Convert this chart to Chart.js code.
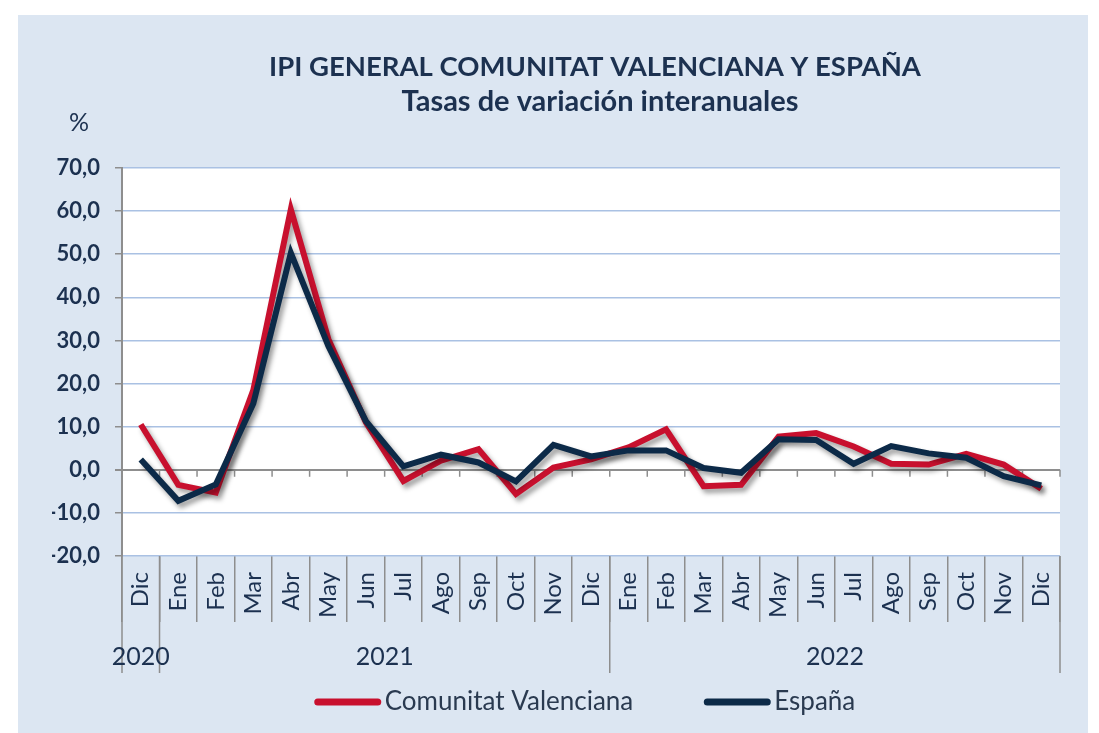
<!DOCTYPE html>
<html lang="es">
<head>
<meta charset="utf-8">
<title>IPI General Comunitat Valenciana y España</title>
<script src="https://cdn.jsdelivr.net/npm/chart.js@4.4.1/dist/chart.umd.min.js"></script>
<style>
    html, body { margin: 0; padding: 0; background: #ffffff; }
    canvas { display: block; }
</style>
</head>
<body>
<canvas id="graficoIPI" width="1099" height="733"></canvas>
<script>
// Datos (tasas de variación interanual, %)
const meses = ['Dic', 'Ene', 'Feb', 'Mar', 'Abr', 'May', 'Jun', 'Jul', 'Ago', 'Sep', 'Oct', 'Nov', 'Dic',
    'Ene', 'Feb', 'Mar', 'Abr', 'May', 'Jun', 'Jul', 'Ago', 'Sep', 'Oct', 'Nov', 'Dic'];
const anios = ['2020', '2021', '2022'];
const inicioAnio = [0, 1, 13];   // índice del primer mes de cada año
const finAnio = [0, 12, 24];     // índice del último mes de cada año

const valoresCV = [10.5, -3.5, -5.3, 18.5, 60.4, 30.3, 11.0, -2.6, 2.1, 4.8, -5.6, 0.5, 2.4,
    5.2, 9.4, -3.8, -3.5, 7.7, 8.5, 5.4, 1.4, 1.2, 3.7, 1.2, -4.4];
const valoresEspana = [2.4, -7.2, -3.4, 15.4, 50.3, 28.7, 11.3, 0.8, 3.5, 1.7, -2.7, 5.8, 3.1,
    4.5, 4.5, 0.4, -0.7, 7.1, 6.9, 1.4, 5.5, 3.8, 2.8, -1.5, -3.6];

const ejeYMin = -20;
const ejeYMax = 70;
const ejeYPaso = 10;

const titulo = 'IPI GENERAL COMUNITAT VALENCIANA Y ESPAÑA';
const subtitulo = 'Tasas de variación interanuales';

const colorRojo = '#c8102e';
const colorAzul = '#0c2a48';
const colorTexto = '#1c3150';
const colorGris = '#8e8e8e';
const colorRejilla = '#aac1e3';
const colorFondo = '#dce6f2';
const fuente = 'Lato, "Open Sans", sans-serif';

// fondo azul claro del panel y área blanca del gráfico
const pluginFondo = {
    id: 'fondo',
    beforeDraw(chart) {
        const { ctx, chartArea: a } = chart;
        ctx.save();
        ctx.fillStyle = '#ffffff';
        ctx.fillRect(0, 0, chart.width, chart.height);
        ctx.fillStyle = colorFondo;
        ctx.fillRect(18, 15, 1070, 718);
        ctx.fillStyle = '#ffffff';
        ctx.fillRect(a.left, a.top, a.right - a.left, a.bottom - a.top);
        ctx.restore();
    },
};

// marcas en la línea del cero entre categorías
const pluginLineaCero = {
    id: 'lineaCero',
    beforeDatasetsDraw(chart) {
        const { ctx, scales: { x, y } } = chart;
        const y0 = y.getPixelForValue(0);
        const paso = x.getPixelForValue(1) - x.getPixelForValue(0);
        ctx.save();
        ctx.strokeStyle = colorGris;
        ctx.lineWidth = 1.5;
        for (let k = 0; k <= meses.length; k++) {
            const px = x.getPixelForValue(0) - paso / 2 + k * paso;
            ctx.beginPath();
            ctx.moveTo(px, y0);
            ctx.lineTo(px, y0 + 7);
            ctx.stroke();
        }
        ctx.restore();
    },
};

// sombra de las líneas
const pluginSombra = {
    id: 'sombra',
    beforeDatasetDraw(chart) {
        const ctx = chart.ctx;
        ctx.save();
        ctx.shadowColor = 'rgba(0, 0, 0, 0.38)';
        ctx.shadowBlur = 5;
        ctx.shadowOffsetX = 3;
        ctx.shadowOffsetY = 4;
    },
    afterDatasetDraw(chart) {
        chart.ctx.restore();
    },
};

// títulos, "%", años y leyenda
const pluginTextos = {
    id: 'textos',
    afterDraw(chart) {
        const { ctx, chartArea: a, scales: { x } } = chart;
        ctx.save();
        ctx.fillStyle = colorTexto;
        ctx.textAlign = 'center';
        ctx.textBaseline = 'middle';

        ctx.font = `bold 27.5px ${fuente}`;
        ctx.fillText(titulo, 595, 67);
        ctx.font = `bold 29px ${fuente}`;
        ctx.fillText(subtitulo, 600, 102);
        ctx.font = `25px ${fuente}`;
        ctx.fillText('%', 79, 123);

        // separadores de años y etiquetas
        const paso = x.getPixelForValue(1) - x.getPixelForValue(0);
        ctx.strokeStyle = colorGris;
        ctx.lineWidth = 1.5;
        const limites = [...inicioAnio, meses.length];
        limites.forEach((i) => {
            const px = x.getPixelForValue(0) - paso / 2 + i * paso;
            ctx.beginPath();
            ctx.moveTo(px, a.bottom);
            ctx.lineTo(px, a.bottom + 117);
            ctx.stroke();
        });
        ctx.font = `25px ${fuente}`;
        anios.forEach((texto, i) => {
            const cx = (x.getPixelForValue(inicioAnio[i]) + x.getPixelForValue(finAnio[i])) / 2;
            ctx.fillText(texto, cx, a.bottom + 101);
        });

        // leyenda
        const series = chart.data.datasets;
        const largoMuestra = 66;
        const separacion = 4;
        const entreItems = 71;
        ctx.font = `26px ${fuente}`;
        const anchos = series.map((d) => largoMuestra + separacion + ctx.measureText(d.label).width);
        const total = anchos.reduce((s, w) => s + w, 0) + entreItems * (series.length - 1);
        let cx = 585 - total / 2;
        const cy = 702;
        ctx.textAlign = 'left';
        series.forEach((d, i) => {
            ctx.strokeStyle = d.borderColor;
            ctx.lineWidth = 7;
            ctx.lineCap = 'round';
            ctx.beginPath();
            ctx.moveTo(cx + 3, cy);
            ctx.lineTo(cx + largoMuestra - 3, cy);
            ctx.stroke();
            ctx.fillStyle = '#2a3a50';
            ctx.fillText(d.label, cx + largoMuestra + separacion, cy);
            cx += anchos[i] + entreItems;
        });
        ctx.restore();
    },
};

const ctx = document.getElementById('graficoIPI').getContext('2d');
new Chart(ctx, {
    type: 'line',
    data: {
        labels: meses,
        datasets: [
            {
                label: 'Comunitat Valenciana',
                data: valoresCV,
                borderColor: colorRojo,
                backgroundColor: colorRojo,
                borderWidth: 6,
                pointRadius: 0,
                tension: 0,
                order: 1,
            },
            {
                label: 'España',
                data: valoresEspana,
                borderColor: colorAzul,
                backgroundColor: colorAzul,
                borderWidth: 6,
                pointRadius: 0,
                tension: 0,
                order: 0,
            },
        ],
    },
    options: {
        responsive: false,
        animation: false,
        devicePixelRatio: 1,
        layout: { padding: { top: 168, left: 52, right: 39, bottom: 0 } },
        plugins: {
            legend: { display: false },
            title: { display: false },
            tooltip: { enabled: false },
        },
        scales: {
            x: {
                offset: true,
                grid: {
                    offset: true,
                    drawOnChartArea: false,
                    drawTicks: true,
                    tickLength: 66,
                    tickColor: colorGris,
                    lineWidth: 1.5,
                },
                border: { display: false },
                ticks: {
                    autoSkip: false,
                    minRotation: 90,
                    maxRotation: 90,
                    padding: -50,
                    color: colorTexto,
                    font: { family: fuente, size: 24 },
                },
                afterFit: (escala) => { escala.height = 177; },
            },
            y: {
                min: ejeYMin,
                max: ejeYMax,
                ticks: {
                    stepSize: ejeYPaso,
                    padding: 15,
                    color: colorTexto,
                    font: { family: fuente, size: 22, weight: 'bold' },
                    callback: (v) => v.toFixed(1).replace('.', ','),
                },
                grid: {
                    color: (c) => (c.tick && c.tick.value === 0 ? colorGris : colorRejilla),
                    lineWidth: (c) => (c.tick && c.tick.value === 0 ? 2 : 1.5),
                    tickColor: colorGris,
                    tickLength: 7,
                },
                border: { color: colorGris, width: 2 },
                afterFit: (escala) => { escala.width = 70; },
            },
        },
    },
    plugins: [pluginFondo, pluginLineaCero, pluginSombra, pluginTextos],
});
</script>
</body>
</html>
